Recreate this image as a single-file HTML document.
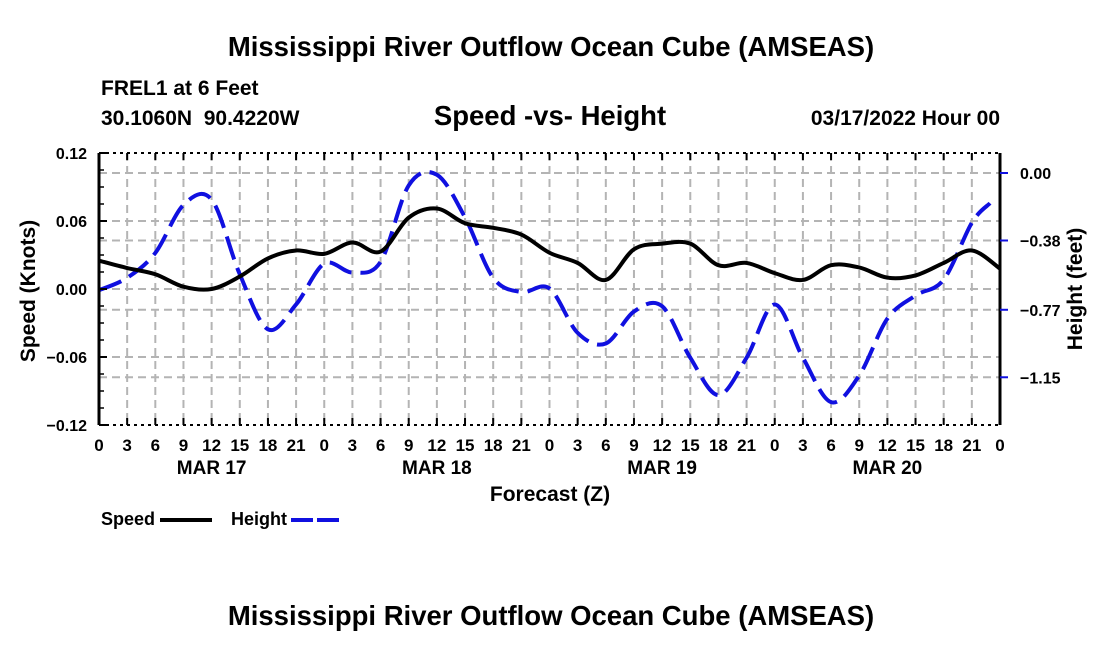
<!DOCTYPE html>
<html><head><meta charset="utf-8"><style>
body{margin:0;background:#fff;}
svg{font-family:"Liberation Sans",sans-serif;}
</style></head><body>
<svg width="1100" height="650" viewBox="0 0 1100 650">
<text x="551" y="56" text-anchor="middle" font-size="27.5" font-weight="bold">Mississippi River Outflow Ocean Cube (AMSEAS)</text>
<text x="101" y="95" font-size="21" font-weight="bold">FREL1 at 6 Feet</text>
<text x="101" y="125" font-size="21" font-weight="bold" xml:space="preserve">30.1060N  90.4220W</text>
<text x="550" y="125" text-anchor="middle" font-size="27.5" font-weight="bold">Speed -vs- Height</text>
<text x="1000" y="125" text-anchor="end" font-size="21" font-weight="bold">03/17/2022 Hour 00</text>
<g id="grid"></g>
<g id="series"></g>
<g id="axes"></g>
<text transform="translate(35,291) rotate(-90)" text-anchor="middle" font-size="21" font-weight="bold">Speed (Knots)</text>
<text transform="translate(1082,289) rotate(-90)" text-anchor="middle" font-size="21" font-weight="bold">Height (feet)</text>
<text x="550" y="501" text-anchor="middle" font-size="21" font-weight="bold">Forecast (Z)</text>
<g>
<text x="101" y="525" font-size="18" font-weight="bold">Speed</text>
<line x1="160" y1="520" x2="212" y2="520" stroke="#000" stroke-width="4"/>
<text x="231" y="525" font-size="18" font-weight="bold">Height</text>
<line x1="291" y1="520" x2="343" y2="520" stroke="#1010e0" stroke-width="4" stroke-dasharray="22 4"/>
</g>
<text x="551" y="625" text-anchor="middle" font-size="27.5" font-weight="bold">Mississippi River Outflow Ocean Cube (AMSEAS)</text>
</svg>
<script>
const hours=[0,3,6,9,12,15,18,21,24,27,30,33,36,39,42,45,48,51,54,57,60,63,66,69,72,75,78,81,84,87,90,93,96];
const speed=[0.025,0.0185,0.013,0.002,0.0,0.011,0.027,0.034,0.031,0.041,0.033,0.063,0.071,0.058,0.054,0.048,0.032,0.023,0.008,0.035,0.040,0.040,0.021,0.023,0.014,0.008,0.021,0.019,0.010,0.012,0.023,0.034,0.018];
const height=[-0.66,-0.59,-0.45,-0.18,-0.15,-0.57,-0.88,-0.74,-0.51,-0.56,-0.50,-0.07,-0.01,-0.25,-0.59,-0.67,-0.65,-0.90,-0.96,-0.78,-0.75,-1.04,-1.25,-1.04,-0.74,-1.04,-1.29,-1.14,-0.82,-0.69,-0.60,-0.28,-0.17];
const speedTicks=[0.12,0.06,0.00,-0.06,-0.12];
const speedTickLabels=["0.12","0.06","0.00","\u22120.06","\u22120.12"];
const heightTicks=[0.00,-0.38,-0.77,-1.15];
const heightTickLabels=["0.00","\u22120.38","\u22120.77","\u22121.15"];
const xTickLabels=["0","3","6","9","12","15","18","21"];
const dayLabels=["MAR 17","MAR 18","MAR 19","MAR 20"];

const X0=99,X1=1000,T=153,B=425;
const NS="http://www.w3.org/2000/svg";
const xs=h=>X0+(X1-X0)*h/96;
const ys=s=>289-s*(136/0.12);
const yh=h=>173-h*(67.5/0.38);
function mk(tag,attrs,parent){const e=document.createElementNS(NS,tag);for(const k in attrs)e.setAttribute(k,attrs[k]);parent.appendChild(e);return e;}
const grid=document.getElementById('grid'),ser=document.getElementById('series'),ax=document.getElementById('axes');
for(let i=1;i<32;i++){const x=xs(i*3);
 const l=mk('line',{x1:x,y1:T,x2:x,y2:B,stroke:'#b4b4b4','stroke-width':2,'stroke-dasharray':'8 5'},grid);
 
 }
speedTicks.slice(1,4).forEach(s=>{const l=mk('line',{x1:X0,y1:ys(s),x2:X1,y2:ys(s),stroke:'#b4b4b4','stroke-width':2,'stroke-dasharray':'8 5'},grid);
 
 });
heightTicks.forEach(h=>{const l=mk('line',{x1:X0,y1:yh(h),x2:X1,y2:yh(h),stroke:'#b4b4b4','stroke-width':2,'stroke-dasharray':'8 5'},grid);
 
 });
function smooth(pts){let d=`M${pts[0][0]},${pts[0][1]}`;
 for(let i=0;i<pts.length-1;i++){const p0=pts[Math.max(0,i-1)],p1=pts[i],p2=pts[i+1],p3=pts[Math.min(pts.length-1,i+2)];
  d+=` C${p1[0]+(p2[0]-p0[0])/6},${p1[1]+(p2[1]-p0[1])/6} ${p2[0]-(p3[0]-p1[0])/6},${p2[1]-(p3[1]-p1[1])/6} ${p2[0]},${p2[1]}`;}
 return d;}
const hp=mk('path',{d:smooth(hours.map((h,i)=>[xs(h)-(i==hours.length-1?10:0),yh(height[i])])),fill:'none',stroke:'#1010e0','stroke-width':4,'stroke-dasharray':'24 9'},ser);


const sp=mk('path',{d:smooth(hours.map((h,i)=>[xs(h),ys(speed[i])])),fill:'none',stroke:'#000','stroke-width':4},ser);


const fr=mk('path',{d:`M${X0},${T}V${B}M${X1},${T}V${B}`,stroke:'#000','stroke-width':3,fill:'none'},ax);


[T,B].forEach(y=>{const l=mk('line',{x1:X0,y1:y,x2:X1,y2:y,stroke:'#000','stroke-width':2,'stroke-dasharray':'3 4'},ax);
 
 });
for(let i=0;i<=32;i++){const x=xs(i*3);
 [[B,B-7],[T,T+7]].forEach(p=>{const t=mk('line',{x1:x,y1:p[0],x2:x,y2:p[1],stroke:'#000','stroke-width':2},ax);
  
  });
 const tx=mk('text',{x:x,y:451,'text-anchor':'middle','font-size':17,'font-weight':'bold'},ax);
 tx.textContent=i==32?"0":xTickLabels[i%8];
 
 }
dayLabels.forEach((d,i)=>{const t=mk('text',{x:xs(i*24+12),y:474,'text-anchor':'middle','font-size':19,'font-weight':'bold'},ax);
 t.textContent=d;
 
 });
speedTicks.forEach((s,i)=>{const y=ys(s);
 const t=mk('line',{x1:X0,y1:y,x2:X0+8,y2:y,stroke:'#000','stroke-width':2},ax);
 
 
 const l=mk('text',{x:87,y:y+6,'text-anchor':'end','font-size':16,'font-weight':'bold'},ax);
 l.textContent=speedTickLabels[i];
 
 });
for(let k=0;k<=16;k++){const y=T+k*(B-T)/16;const t=mk('line',{x1:X0,y1:y,x2:X0+5,y2:y,stroke:'#000','stroke-width':1.5},ax);
 
 }
heightTicks.forEach((h,i)=>{const y=yh(h);
 const t=mk('line',{x1:X1,y1:y,x2:X1+8,y2:y,stroke:'#1010e0','stroke-width':2},ax);
 
 
 const l=mk('text',{x:1020,y:y+6,'font-size':16,'font-weight':'bold'},ax);
 l.textContent=heightTickLabels[i];
 
 });
</script>
</body></html>
